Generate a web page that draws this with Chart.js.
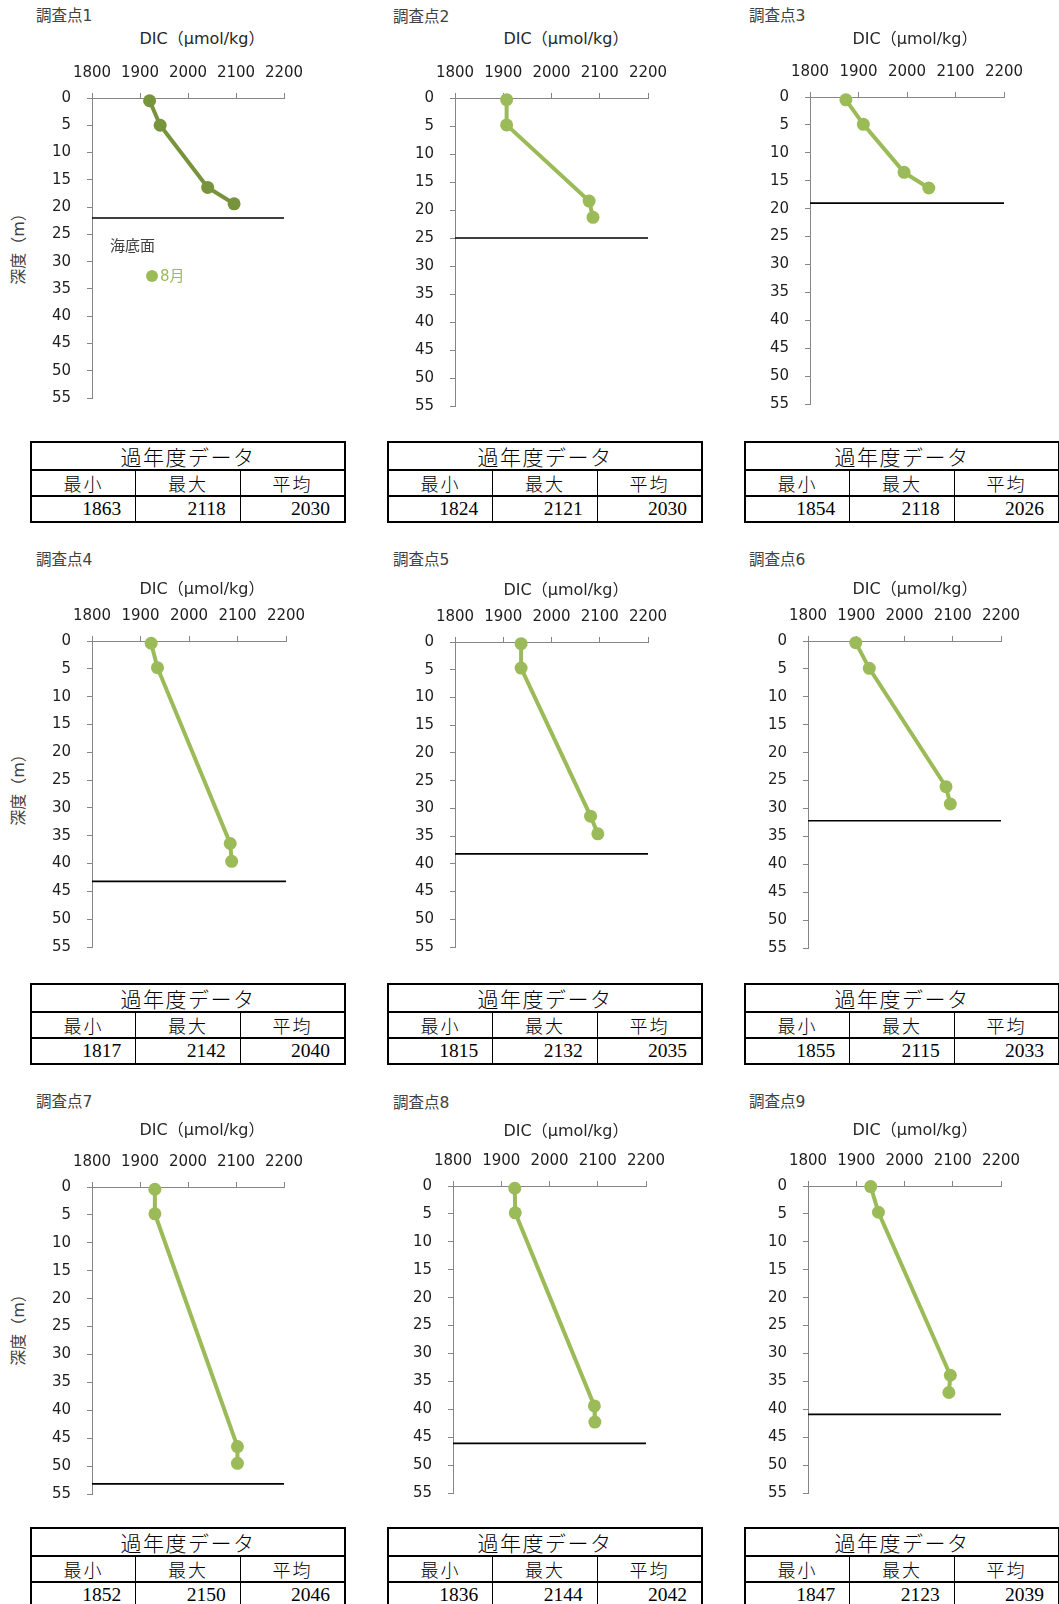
<!DOCTYPE html>
<html lang="ja">
<head>
<meta charset="utf-8">
<title>調査点別 DIC 鉛直分布</title>
<script src="https://cdn.jsdelivr.net/npm/chart.js@4.4.1/dist/chart.umd.min.js"></script>
<style>
  html, body { margin: 0; padding: 0; background: #fff; }
  body {
    width: 1059px; height: 1604px; position: relative; overflow: hidden;
    font-family: "DejaVu Sans", "Noto Sans CJK JP", sans-serif;
  }
  canvas { position: absolute; }
  .lbl { position: absolute; white-space: nowrap; color: #404040; line-height: 1; }
  .st-title { font-size: 15.5px; transform: translateY(-50%); }
  .x-title { font-size: 16px; color: #262626; transform: translate(-50%, -50%); }
  .y-title { font-size: 16px; transform: translate(-50%, -50%) rotate(-90deg); }
  .leg-dot { position: absolute; width: 12px; height: 12px; border-radius: 50%; background: #9BBB59; transform: translate(-50%, -50%); }

  table.past {
    position: absolute; border-collapse: collapse; table-layout: fixed; width: 316px;
    border: 2px solid #000; color: #000;
    font-family: "Liberation Serif", "Noto Sans CJK JP", serif;
  }
  table.past td { border: 1px solid #000; padding: 0; text-align: center; line-height: 1; }
  table.past tr.h td { height: 26px; font-size: 21px; font-weight: 300; letter-spacing: 1.5px; border-bottom: 2px solid #000; font-family: "Noto Sans CJK JP"; }
  table.past tr.k td { height: 24px; font-size: 18px; font-weight: 300; letter-spacing: 2px; border-bottom: 2px solid #000; font-family: "Noto Sans CJK JP"; }
  table.past tr.v td { height: 24px; font-size: 19.5px; text-align: right; padding-right: 14px; }
</style>
</head>
<body>
<script>
// --- data ---
const stationNames = ['調査点1', '調査点2', '調査点3', '調査点4', '調査点5', '調査点6', '調査点7', '調査点8', '調査点9'];

// DIC (μmol/kg) per station, surface to bottom
const dicSt = [
    [1920, 1942, 2041, 2096],
    [1907, 1907, 2078, 2086],
    [1874, 1910, 1994, 2045],
    [1922, 1935, 2085, 2088],
    [1937, 1937, 2081, 2096],
    [1899, 1927, 2086, 2095],
    [1931, 1931, 2103, 2103],
    [1928, 1929, 2093, 2094],
    [1930, 1946, 2095, 2092]
];

// sampling depth (m)
const depthSt = [
    [0.5, 5.0, 16.4, 19.4],
    [0.3, 4.8, 18.4, 21.3],
    [0.5, 4.9, 13.5, 16.3],
    [0.4, 4.8, 36.4, 39.6],
    [0.3, 4.7, 31.4, 34.6],
    [0.3, 4.9, 26.1, 29.2],
    [0.4, 4.8, 46.5, 49.5],
    [0.4, 4.8, 39.4, 42.3],
    [0.1, 4.7, 33.9, 37.0]
];

const seabedDepth = [22.0, 25.0, 19.0, 43.2, 38.2, 32.2, 53.2, 46.1, 40.9];

// 過年度データ
const pastMin  = [1863, 1824, 1854, 1817, 1815, 1855, 1852, 1836, 1847];
const pastMax  = [2118, 2121, 2118, 2142, 2132, 2115, 2150, 2144, 2123];
const pastMean = [2030, 2030, 2026, 2040, 2035, 2033, 2046, 2042, 2039];
const statLabels = ['最小', '最大', '平均'];

const DIC_MIN = 1800, DIC_MAX = 2200, DIC_STEP = 100;
const DEPTH_MIN = 0, DEPTH_MAX = 55, DEPTH_STEP = 5;

// --- layout (page pixels) ---
// plot area of each panel: [left, top, right, bottom]
const plotBoxes = [
    [92, 98, 284, 398], [455, 98, 648, 406], [810, 97, 1004, 404],
    [92, 641, 286, 947], [455, 642, 648, 947], [808, 641, 1001, 948],
    [92, 1187, 284, 1494], [453, 1186, 646, 1493], [808, 1186, 1001, 1493]
];
const titlePos = [
    [36, 17], [393, 18], [749, 17],
    [36, 561], [393, 561], [749, 561],
    [36, 1103], [393, 1104], [749, 1103]
];
const xTitlePos = [
    [202, 39], [566, 39], [915, 39],
    [202, 589], [566, 590], [915, 589],
    [202, 1130], [566, 1131], [915, 1130]
];
const yTitlePos = [[19, 245], [19, 786], [19, 1326]];
const tableLeft = [30, 387, 744];
const tableTop = [441, 983, 1527];

const AX_W = 60, AX_H = 50, PAD_R = 30, PAD_B = 12;
const AXIS_GREY = '#868686';
const TICK_FONT = { family: 'DejaVu Sans', size: 15 };

function addLabel(cls, text, x, y) {
    const d = document.createElement('div');
    d.className = 'lbl ' + cls;
    d.textContent = text;
    d.style.left = x + 'px';
    d.style.top = y + 'px';
    document.body.appendChild(d);
    return d;
}

function makeChart(i) {
    const [L, T, R, B] = plotBoxes[i];
    const canvas = document.createElement('canvas');
    canvas.width = AX_W + (R - L) + PAD_R;
    canvas.height = AX_H + (B - T) + PAD_B;
    canvas.style.left = (L - AX_W) + 'px';
    canvas.style.top = (T - AX_H) + 'px';
    document.body.appendChild(canvas);

    const color = i === 0 ? '#77933C' : '#9BBB59';

    new Chart(canvas.getContext('2d'), {
        type: 'scatter',
        data: {
            datasets: [
                {
                    label: '海底面',
                    data: [{ x: DIC_MIN, y: seabedDepth[i] }, { x: DIC_MAX, y: seabedDepth[i] }],
                    showLine: true,
                    borderColor: '#000000',
                    borderWidth: 1.7,
                    pointRadius: 0,
                    clip: false
                },
                {
                    label: '8月',
                    data: dicSt[i].map((x, k) => ({ x: x, y: depthSt[i][k] })),
                    showLine: true,
                    borderColor: color,
                    backgroundColor: color,
                    borderWidth: 4,
                    pointRadius: 6.5,
                    pointBorderWidth: 0,
                    clip: false
                }
            ]
        },
        options: {
            responsive: false,
            animation: false,
            devicePixelRatio: 1,
            layout: { padding: { left: 0, top: 0, right: PAD_R, bottom: PAD_B } },
            plugins: {
                legend: { display: false },
                tooltip: { enabled: false }
            },
            scales: {
                x: {
                    type: 'linear',
                    position: 'top',
                    min: DIC_MIN,
                    max: DIC_MAX,
                    ticks: { stepSize: DIC_STEP, padding: 11, color: '#1e1e1e', font: TICK_FONT, callback: v => String(v) },
                    grid: { drawOnChartArea: false, tickLength: 5, color: AXIS_GREY },
                    border: { color: AXIS_GREY, width: 1 },
                    afterFit: s => { s.height = AX_H; s.paddingLeft = 0; s.paddingRight = 0; }
                },
                y: {
                    type: 'linear',
                    position: 'left',
                    reverse: true,
                    min: DEPTH_MIN,
                    max: DEPTH_MAX,
                    ticks: { stepSize: DEPTH_STEP, padding: 16, color: '#1e1e1e', font: TICK_FONT, callback: v => String(v) },
                    grid: { drawOnChartArea: false, tickLength: 5, color: AXIS_GREY },
                    border: { color: AXIS_GREY, width: 1 },
                    afterFit: s => { s.width = AX_W; s.paddingTop = 0; s.paddingBottom = 0; }
                }
            }
        }
    });

    // titles
    addLabel('st-title', stationNames[i], titlePos[i][0], titlePos[i][1]);
    addLabel('x-title', 'DIC（μmol/kg）', xTitlePos[i][0], xTitlePos[i][1]);
    if (i % 3 === 0) {
        const yt = yTitlePos[i / 3];
        addLabel('y-title', '深度（m）', yt[0], yt[1]);
    }
}

function makeTable(i) {
    const t = document.createElement('table');
    t.className = 'past';
    t.style.left = tableLeft[i % 3] + 'px';
    t.style.top = tableTop[Math.floor(i / 3)] + 'px';
    t.innerHTML =
        '<tr class="h"><td colspan="3">過年度データ</td></tr>' +
        '<tr class="k">' + statLabels.map(s => '<td>' + s + '</td>').join('') + '</tr>' +
        '<tr class="v"><td>' + pastMin[i] + '</td><td>' + pastMax[i] + '</td><td>' + pastMean[i] + '</td></tr>';
    document.body.appendChild(t);
}

for (let i = 0; i < stationNames.length; i++) {
    makeChart(i);
    makeTable(i);
}

// legend, drawn once inside the first panel
const seaLeg = addLabel('', '海底面', 110, 246);
seaLeg.style.fontSize = '15px';
seaLeg.style.transform = 'translateY(-50%)';
const dot = document.createElement('div');
dot.className = 'leg-dot';
dot.style.left = '152px';
dot.style.top = '276px';
document.body.appendChild(dot);
const augLeg = addLabel('', '8月', 160, 276);
augLeg.style.fontSize = '15px';
augLeg.style.color = '#9BBB59';
augLeg.style.transform = 'translateY(-50%)';
</script>
</body>
</html>
